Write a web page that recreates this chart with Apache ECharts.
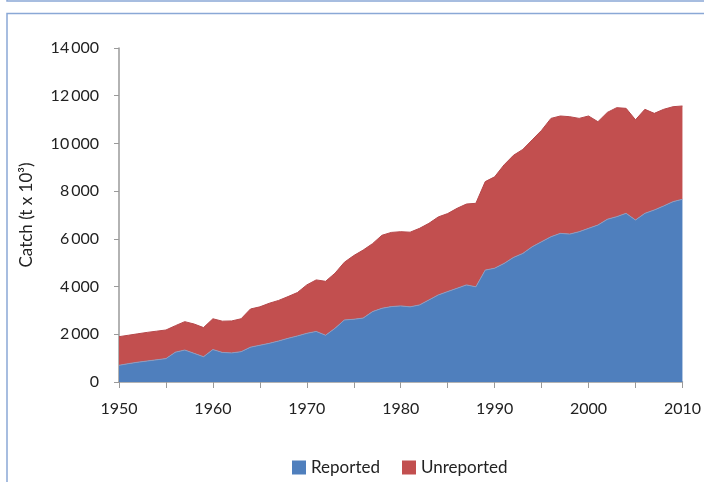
<!DOCTYPE html>
<html>
<head>
<meta charset="utf-8">
<script src="https://cdn.jsdelivr.net/npm/echarts@6/dist/echarts.min.js"></script>
<style>
  html, body { margin: 0; padding: 0; background: #fff; }
  #chart { width: 704px; height: 482px; }
</style>
</head>
<body>
<div id="chart"></div>
<script>
  // years on the x axis
  var years = [];
  for (var y = 1950; y <= 2010; y++) years.push(String(y));

  // reported catch, t x 10^3
  var reported = [
    700, 770, 830, 880, 930, 980, 1250, 1340, 1200, 1060,
    1360, 1240, 1220, 1270, 1460, 1540, 1620, 1720, 1830, 1930,
    2040, 2120, 1960, 2250, 2600, 2630, 2680, 2950, 3090, 3160,
    3190, 3150, 3230, 3440, 3650, 3790, 3930, 4070, 3990, 4690,
    4770, 4970, 5220, 5390, 5670, 5880, 6090, 6230, 6200, 6300,
    6440, 6580, 6820, 6930, 7070, 6790, 7070, 7210, 7380, 7560,
    7660
  ];
  // unreported catch, stacked on top
  var unreported = [
    1200, 1190, 1190, 1200, 1200, 1200, 1110, 1190, 1230, 1220,
    1290, 1310, 1340, 1380, 1600, 1610, 1680, 1700, 1750, 1820,
    2030, 2160, 2260, 2310, 2420, 2670, 2850, 2850, 3060, 3110,
    3110, 3130, 3210, 3210, 3270, 3270, 3350, 3390, 3500, 3710,
    3830, 4130, 4280, 4360, 4480, 4670, 4960, 4920, 4920, 4750,
    4710, 4330, 4480, 4570, 4400, 4200, 4360, 4050, 4050, 3980,
    3910
  ];

  var fmtThousands = function (v) {
    return String(v).replace(/\B(?=(\d{3})+(?!\d))/g, '\u2009');
  };

  var font = 'Lato, "Open Sans", sans-serif';
  var chart = echarts.init(document.getElementById('chart'));

  chart.setOption({
    animation: false,
    textStyle: { fontFamily: font },
    grid: { left: 119, right: 13, top: 48, bottom: 100 },
    graphic: [
      /* page frames */
      { type: 'rect', shape: { x: 7, y: -30, width: 720, height: 31 },
        style: { fill: 'none', stroke: '#8aa8d6', lineWidth: 1.5 } },
      { type: 'rect', shape: { x: 7, y: 13.5, width: 720, height: 500 },
        style: { fill: 'none', stroke: '#8aa8d6', lineWidth: 1.5 } }
    ],
    legend: {
      left: 287, top: 454,
      itemWidth: 14, itemHeight: 14, itemGap: 22,
      icon: 'rect',
      textStyle: { fontSize: 17, color: '#222', fontFamily: font },
      data: ['Reported', 'Unreported']
    },
    xAxis: {
      type: 'category',
      data: years,
      boundaryGap: false,
      axisLine: { lineStyle: { color: '#9a9a9a', width: 1.5 } },
      axisTick: { show: true, length: 6, interval: 4, lineStyle: { color: '#9a9a9a' } },
      splitLine: { show: false },
      axisLabel: { margin: 19, fontSize: 16, color: '#222', interval: 9 }
    },
    yAxis: {
      type: 'value',
      min: 0, max: 14000, interval: 2000,
      name: 'Catch (t x 10³)',
      nameLocation: 'middle', nameGap: 84,
      nameTextStyle: { fontSize: 17, color: '#222' },
      axisLine: { show: true, lineStyle: { color: '#9a9a9a', width: 1.5 } },
      axisTick: { show: true, length: 5, lineStyle: { color: '#9a9a9a' } },
      splitLine: { show: false },
      axisLabel: { margin: 20, fontSize: 16, color: '#222', formatter: fmtThousands }
    },
    series: [
      {
        name: 'Reported', type: 'line', stack: 'catch',
        data: reported,
        symbol: 'none',
        lineStyle: { width: 1, color: '#8a9cc0' },
        areaStyle: { color: '#4f7fbd', opacity: 1 },
        itemStyle: { color: '#4f7fbd' }
      },
      {
        name: 'Unreported', type: 'line', stack: 'catch',
        data: unreported,
        symbol: 'none',
        lineStyle: { width: 1, color: '#b5474a' },
        areaStyle: { color: '#c24f4f', opacity: 1 },
        itemStyle: { color: '#c24f4f' }
      }
    ]
  });
</script>
</body>
</html>
